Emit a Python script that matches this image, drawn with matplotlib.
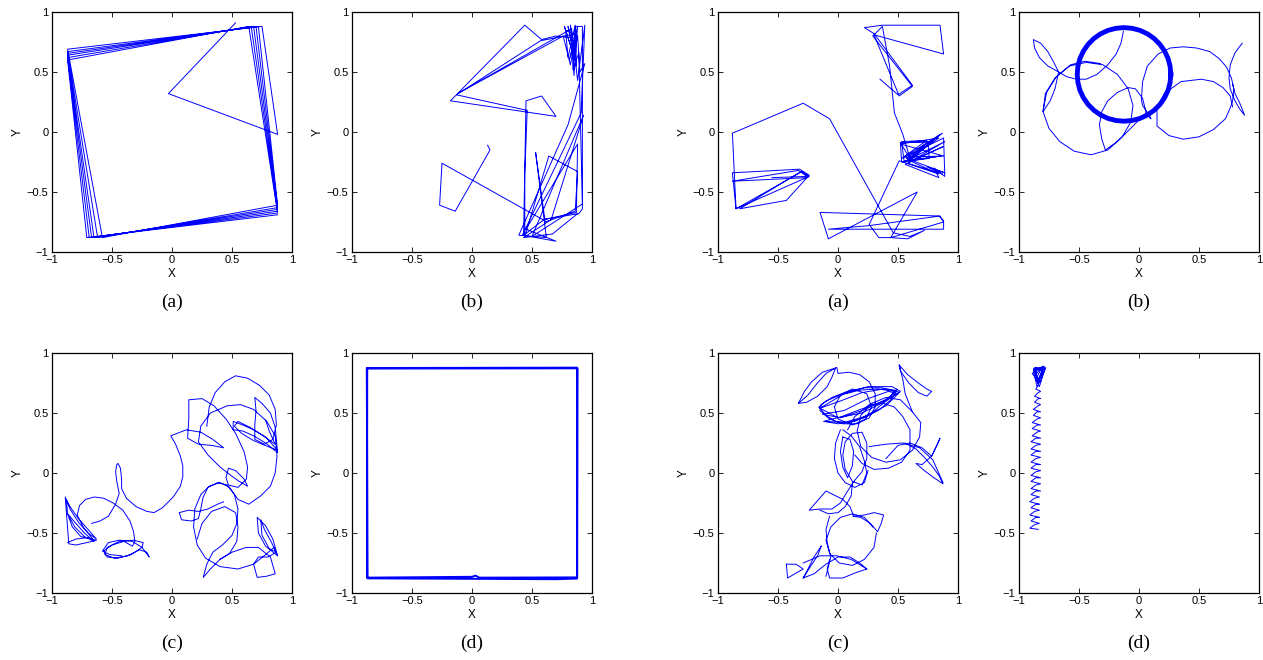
import numpy as np
import matplotlib
matplotlib.use("Agg")
import matplotlib.pyplot as plt

nan = np.nan

# ---- trajectories (x, y in [-1, 1]) ----
# left figure (a): rotating square
p1 = [(0.53, 0.91), (-0.03, 0.32), (0.88, -0.02), (0.75, 0.88),
      (-0.87, 0.69), (-0.58, -0.88), (0.88, -0.61), (0.72, 0.88),
      (-0.87, 0.67), (-0.62, -0.88), (0.88, -0.63), (0.70, 0.88),
      (-0.87, 0.655), (-0.65, -0.88), (0.88, -0.645), (0.68, 0.88),
      (-0.87, 0.64), (-0.67, -0.88), (0.88, -0.66), (0.66, 0.88),
      (-0.87, 0.62), (-0.69, -0.88), (0.88, -0.675), (0.64, 0.88),
      (-0.87, 0.60), (-0.71, -0.88), (0.88, -0.69)]

# left figure (b)
p2 = [(0.13, -0.11), (0.15, -0.15), (-0.14, -0.66), (-0.27, -0.61), (-0.25, -0.26), (0.59, -0.73),
      (0.89, -0.68), (0.92, -0.64), (0.92, 0.88), (0.86, 0.88), (0.87, 0.55), (0.80, 0.88),
      (0.86, 0.60), (0.77, 0.88), (0.87, 0.57), (0.82, 0.89), (0.85, 0.47), (0.88, 0.88),
      (0.81, 0.60), (0.88, 0.78), (0.70, 0.80), (0.58, 0.77), (0.44, 0.89), (-0.13, 0.31),
      (0.57, 0.76), (0.87, 0.82), (0.82, 0.56), (0.76, 0.80), (-0.12, 0.32), (0.83, 0.86),
      (0.88, 0.43), (0.94, 0.89), (0.91, 0.16), (0.42, -0.86), (0.70, -0.91), (0.45, -0.81),
      (0.88, -0.10), (0.87, -0.67), (0.60, -0.73), (0.43, -0.86), (0.45, 0.26), (0.58, 0.30),
      (0.70, 0.13), (-0.18, 0.26), (-0.13, 0.31), (0.46, 0.18), (0.44, -0.35), (0.44, -0.87),
      (0.64, -0.20), (0.88, -0.33), (0.86, -0.66), (0.61, -0.75), (0.53, -0.17), (0.62, -0.88),
      (0.39, -0.86), (0.80, 0.06), (0.94, 0.57), (0.90, 0.50), (0.88, 0.80), (0.78, 0.85),
      (0.80, 0.62), (0.86, 0.89), (0.84, 0.52), (0.89, 0.66), (0.92, -0.60), (0.50, -0.87),
      (0.93, 0.14), (0.66, -0.73), (0.43, -0.88), (0.67, -0.85), (0.88, -0.68)]

# right figure (a)
p3 = [(0.35, 0.44), (0.50, 0.31), (0.62, 0.39), (0.30, 0.82), (0.22, 0.87), (0.37, 0.89),
      (0.85, 0.89), (0.88, 0.65), (0.30, 0.81), (0.51, 0.30), (0.62, 0.38), (0.29, 0.80),
      (0.37, 0.88), (0.43, 0.55), (0.47, 0.16), (0.54, -0.02), (0.60, -0.22),
      (0.52, -0.09), (0.75, -0.08), (0.76, -0.22), (0.53, -0.25), (0.52, -0.09),
      (0.75, -0.08), (0.56, -0.25), (0.87, -0.01), (0.55, -0.21), (0.88, -0.20), (0.52, -0.10),
      (0.84, -0.05), (0.57, -0.24), (0.89, -0.08), (0.58, -0.26), (0.87, -0.35), (0.74, -0.29),
      (0.89, -0.34), (0.57, -0.22), (0.85, -0.02), (0.59, -0.25), (0.88, -0.12), (0.56, -0.27),
      (0.84, -0.38), (0.80, -0.30), (0.89, -0.37), (0.88, -0.05), (0.53, -0.22), (0.74, -0.07),
      (0.53, -0.08), (0.55, -0.24), (0.86, -0.20), (0.60, -0.24), (0.84, -0.35), (0.51, -0.24),
      (0.26, -0.77), (0.34, -0.88), (0.44, -0.88), (0.66, -0.50), (-0.08, -0.89), (-0.15, -0.67),
      (0.84, -0.70), (0.88, -0.74), (0.88, -0.81), (-0.08, -0.81), (0.26, -0.78), (0.85, -0.70),
      (0.88, -0.75), (0.44, -0.88), (0.58, -0.89), (0.72, -0.82), (0.60, -0.87), (0.46, -0.84),
      (-0.07, 0.11), (-0.29, 0.24), (-0.88, -0.01), (-0.85, -0.64),
      (-0.30, -0.33), (-0.24, -0.37), (-0.85, -0.64), (-0.88, -0.34), (-0.32, -0.31),
      (-0.24, -0.36), (-0.43, -0.57), (-0.82, -0.64), (-0.31, -0.33), (-0.25, -0.38),
      (-0.88, -0.41), (-0.33, -0.32), (-0.25, -0.37), (-0.55, -0.38)]

# right figure (b): ring that is circled many times, plus thin arcs
p4_ring = [(0.265, 0.48), (0.259, 0.548), (0.242, 0.613), (0.213, 0.675), (0.174, 0.731),
           (0.126, 0.779), (0.070, 0.818), (0.008, 0.847), (-0.057, 0.864), (-0.125, 0.87),
           (-0.193, 0.864), (-0.258, 0.847), (-0.320, 0.818), (-0.376, 0.779), (-0.424, 0.731),
           (-0.463, 0.675), (-0.492, 0.613), (-0.509, 0.548), (-0.515, 0.48), (-0.509, 0.412),
           (-0.492, 0.347), (-0.463, 0.285), (-0.424, 0.229), (-0.376, 0.181), (-0.320, 0.142),
           (-0.258, 0.113), (-0.193, 0.096), (-0.125, 0.09), (-0.057, 0.096), (0.008, 0.113),
           (0.070, 0.142), (0.126, 0.181), (0.174, 0.229), (0.213, 0.285), (0.242, 0.347),
           (0.259, 0.412), (0.265, 0.48)]
p4_arcs = [(-0.67, 0.50), (-0.71, 0.58), (-0.76, 0.67), (-0.82, 0.74), (-0.88, 0.77), (-0.87, 0.70),
           (-0.83, 0.62), (-0.76, 0.55), (-0.67, 0.50), (-0.60, 0.46), (-0.52, 0.44), (-0.44, 0.44),
           (-0.35, 0.48), (-0.26, 0.56), (-0.19, 0.65), (-0.15, 0.74), (-0.13, 0.84), (nan, nan),
           (-0.67, 0.50), (-0.70, 0.36), (-0.74, 0.26), (-0.80, 0.17), (-0.78, 0.32), (-0.70, 0.45),
           (-0.58, 0.55), (-0.44, 0.58), (-0.30, 0.56), (-0.18, 0.48), (-0.09, 0.36), (-0.05, 0.22),
           (-0.07, 0.08), (-0.14, -0.04), (-0.26, -0.15), (-0.40, -0.19), (-0.54, -0.16),
           (-0.66, -0.08), (-0.75, 0.03), (-0.80, 0.17), (-0.77, 0.33), (-0.69, 0.46), (-0.57, 0.56),
           (-0.45, 0.59), (-0.32, 0.57), (nan, nan),
           (-0.28, -0.15), (-0.31, -0.06), (-0.33, 0.06), (-0.31, 0.17), (-0.26, 0.26), (-0.18, 0.33),
           (-0.09, 0.37), (-0.03, 0.36), (0.03, 0.28), (0.06, 0.16), (0.0, 0.10), (-0.08, 0.02),
           (-0.18, -0.08), (-0.28, -0.15), (nan, nan),
           (0.06, 0.16), (0.09, 0.12), (0.10, 0.11), (0.08, 0.15), (0.03, 0.22), (0.02, 0.27),
           (0.03, 0.42), (0.07, 0.55), (0.16, 0.65), (0.26, 0.70), (0.37, 0.71), (0.48, 0.70),
           (0.59, 0.67), (0.67, 0.61), (0.73, 0.54), (0.77, 0.45), (0.79, 0.36), (0.78, 0.26),
           (0.76, 0.20), (0.72, 0.11), (0.62, 0.02), (0.50, -0.04), (0.37, -0.06), (0.25, -0.03),
           (0.15, 0.05), (0.15, 0.20), (0.21, 0.32), (0.35, 0.42), (0.52, 0.44), (0.62, 0.42),
           (0.70, 0.37), (0.76, 0.30), (0.78, 0.21), (nan, nan),
           (0.86, 0.74), (0.80, 0.66), (0.76, 0.56), (0.75, 0.45), (0.76, 0.36), (0.80, 0.26),
           (0.84, 0.19), (0.88, 0.14), (0.84, 0.24), (0.80, 0.32), (0.78, 0.40)]

# left figure (c)
p5 = [(-0.87, -0.58), (-0.80, -0.55), (-0.71, -0.54), (-0.63, -0.56), (-0.71, -0.58), (-0.80, -0.60),
      (-0.86, -0.59), (-0.89, -0.20), (-0.85, -0.30), (-0.78, -0.41), (-0.70, -0.50), (-0.63, -0.55),
      (-0.70, -0.47), (-0.78, -0.38), (-0.85, -0.28), (-0.88, -0.22), (-0.87, -0.34), (-0.81, -0.45),
      (-0.73, -0.53), (-0.65, -0.57), (-0.73, -0.50), (-0.81, -0.41), (-0.87, -0.34), (-0.83, -0.45),
      (-0.76, -0.53), (-0.66, -0.55), (-0.74, -0.45), (-0.79, -0.35), (-0.77, -0.27), (-0.72, -0.22),
      (-0.65, -0.20), (-0.57, -0.21), (-0.49, -0.25), (-0.41, -0.31), (-0.35, -0.40), (-0.32, -0.49),
      (-0.31, -0.57), (-0.33, -0.61), (-0.40, -0.57), (-0.50, -0.60), (-0.57, -0.65), (-0.54, -0.70),
      (-0.45, -0.71), (-0.34, -0.68), (-0.25, -0.62), (-0.24, -0.58), (-0.32, -0.56), (-0.44, -0.57),
      (-0.54, -0.62), (-0.56, -0.68), (-0.48, -0.71), (-0.37, -0.69), (-0.27, -0.64), (-0.21, -0.66),
      (-0.19, -0.70), (-0.25, -0.62), (-0.33, -0.57), (-0.44, -0.56), (-0.53, -0.58), (-0.58, -0.65),
      (-0.52, -0.68), (-0.42, -0.69), (nan, nan),
      (-0.67, -0.42), (-0.60, -0.40), (-0.53, -0.36), (-0.47, -0.26), (-0.44, -0.17), (-0.46, -0.07),
      (-0.47, 0.01), (-0.46, 0.07), (-0.45, 0.08), (-0.43, 0.04), (-0.42, -0.05), (-0.42, -0.13),
      (-0.38, -0.21), (-0.30, -0.28), (-0.21, -0.32), (-0.15, -0.33), (-0.08, -0.29), (0.01, -0.20),
      (0.07, -0.11), (0.09, -0.03), (0.09, 0.06), (0.07, 0.14), (0.03, 0.24), (-0.01, 0.31),
      (0.12, 0.36), (0.24, 0.34), (0.34, 0.28), (0.43, 0.21), (0.33, 0.23), (0.22, 0.24), (0.13, 0.29),
      (0.14, 0.45), (0.14, 0.61), (0.25, 0.62), (0.35, 0.56), (0.45, 0.45), (0.53, 0.33), (0.60, 0.18),
      (0.63, 0.05), (0.62, -0.05), (0.55, -0.12), (0.47, -0.10), (0.45, -0.04), (0.47, 0.04),
      (0.53, 0.02), (0.60, -0.05), (0.63, -0.11), (0.56, -0.07), (0.49, -0.02), (0.40, 0.05),
      (0.30, 0.15), (0.22, 0.26), (0.24, 0.39), (0.32, 0.50), (0.46, 0.56), (0.57, 0.57), (0.68, 0.53),
      (0.79, 0.43), (0.86, 0.31), (0.875, 0.14), (0.86, 0.0), (0.82, -0.11), (0.74, -0.19),
      (0.64, -0.26), (0.55, -0.22), (0.48, -0.12), (0.40, -0.08), (0.31, -0.11), (0.24, -0.18),
      (0.19, -0.30), (0.18, -0.45), (0.21, -0.60), (0.28, -0.71), (0.40, -0.78), (0.55, -0.80),
      (0.68, -0.76), (0.78, -0.68), (0.85, -0.62), (0.88, -0.69), (0.84, -0.55), (0.78, -0.44),
      (0.71, -0.37), (0.72, -0.50), (0.78, -0.61), (0.88, -0.69), (0.83, -0.58), (0.77, -0.47),
      (0.74, -0.39), (0.75, -0.52), (0.81, -0.63), (0.87, -0.66), (0.80, -0.70), (0.72, -0.70),
      (0.68, -0.76), (0.71, -0.87), (0.79, -0.86), (0.86, -0.84), (0.82, -0.70), (0.72, -0.62),
      (0.62, -0.62), (0.50, -0.66), (0.40, -0.72), (0.32, -0.80), (0.26, -0.87), (0.29, -0.76),
      (0.34, -0.66), (0.42, -0.60), (0.50, -0.52), (0.54, -0.42), (0.55, -0.30), (0.52, -0.18),
      (0.46, -0.10), (0.38, -0.08), (0.30, -0.12), (0.26, -0.20), (0.24, -0.30), (0.22, -0.38),
      (0.16, -0.40), (0.08, -0.39), (0.06, -0.33), (0.14, -0.31), (0.22, -0.32), (0.30, -0.30),
      (0.38, -0.26), (0.43, -0.24), (nan, nan),
      (0.21, -0.55), (0.25, -0.42), (0.33, -0.32), (0.44, -0.28), (0.53, -0.33), (0.55, -0.45),
      (0.54, -0.57), (0.48, -0.67), (0.40, -0.72), (nan, nan),
      (0.29, 0.39), (0.31, 0.55), (0.36, 0.67), (0.44, 0.76), (0.53, 0.81), (0.63, 0.79), (0.73, 0.73),
      (0.81, 0.65), (0.86, 0.53), (0.87, 0.40), (0.84, 0.28), (0.77, 0.24), (0.69, 0.28), (0.69, 0.40),
      (0.70, 0.52), (0.69, 0.63), (0.75, 0.58), (0.82, 0.50), (0.86, 0.38), (0.88, 0.17), (0.78, 0.25),
      (0.68, 0.31), (0.59, 0.35), (0.51, 0.36), (0.51, 0.43), (0.59, 0.40), (0.68, 0.36), (0.78, 0.30),
      (0.88, 0.19), (0.80, 0.22), (0.68, 0.27), (0.58, 0.33), (0.52, 0.39), (0.55, 0.43), (0.65, 0.38),
      (0.76, 0.31), (0.86, 0.24), (0.81, 0.35), (0.78, 0.44)]

# left figure (d): square, traced twice
p6 = [(-0.87, 0.875), (0.875, 0.878), (0.877, -0.87), (0.06, -0.872), (0.03, -0.855), (0.0, -0.865),
      (-0.875, -0.872), (-0.873, 0.875), (0.88, 0.872), (0.875, -0.88), (0.70, -0.885),
      (-0.87, -0.878), (-0.877, 0.87), (0.87, 0.875)]

# right figure (c)
p7 = [(-0.33, 0.58), (-0.28, 0.68), (-0.22, 0.76), (-0.13, 0.84), (-0.02, 0.875), (-0.05, 0.80),
      (-0.09, 0.72), (-0.17, 0.64), (-0.26, 0.59), (-0.33, 0.58), (-0.25, 0.65), (-0.18, 0.74),
      (-0.10, 0.83), (-0.01, 0.88), (0.0, 0.83), (0.09, 0.84), (0.18, 0.82), (0.26, 0.76), (0.31, 0.66),
      (0.31, 0.55), (0.26, 0.46), (0.16, 0.41), (0.04, 0.41), (-0.07, 0.45), (-0.15, 0.52),
      (-0.14, 0.57), (-0.05, 0.63), (0.08, 0.68), (0.22, 0.71), (0.36, 0.71), (0.47, 0.69), (0.51, 0.67),
      (0.42, 0.62), (0.30, 0.57), (0.16, 0.52), (0.03, 0.47), (-0.08, 0.44), (-0.12, 0.43), (0.0, 0.41),
      (0.14, 0.43), (0.28, 0.50), (0.40, 0.60), (0.49, 0.70), (0.45, 0.62), (0.35, 0.53), (0.22, 0.46),
      (0.08, 0.42), (-0.02, 0.43), (-0.10, 0.48), (-0.16, 0.55), (-0.10, 0.60), (0.02, 0.65),
      (0.18, 0.69), (0.33, 0.70), (0.48, 0.68), (nan, nan),
      (-0.15, 0.54), (0.05, 0.66), (0.25, 0.72), (0.45, 0.72), (0.52, 0.68), (0.40, 0.60), (0.20, 0.50),
      (0.0, 0.46), (-0.15, 0.54), (0.02, 0.60), (0.20, 0.67), (0.38, 0.70), (0.49, 0.68), (0.38, 0.60),
      (0.20, 0.52), (0.02, 0.46), (-0.13, 0.49), (0.05, 0.52), (0.25, 0.62), (0.42, 0.68), (0.50, 0.66),
      (0.40, 0.56), (0.22, 0.47), (0.05, 0.42), (-0.10, 0.43), (nan, nan),
      (-0.03, 0.55), (0.02, 0.65), (0.12, 0.70), (0.24, 0.66), (0.28, 0.55), (0.23, 0.45), (0.12, 0.40),
      (0.0, 0.45), (-0.03, 0.55), (nan, nan),
      (0.51, 0.90), (0.58, 0.82), (0.67, 0.75), (0.74, 0.70), (0.78, 0.68), (0.74, 0.64), (0.67, 0.67),
      (0.59, 0.75), (0.52, 0.85), (0.51, 0.90), (0.54, 0.78), (0.56, 0.66), (0.60, 0.56), (0.62, 0.51),
      (0.69, 0.42), (0.68, 0.30), (0.62, 0.19), (0.52, 0.11), (0.40, 0.09), (0.28, 0.13), (0.19, 0.22),
      (0.16, 0.35), (0.19, 0.48), (0.28, 0.58), (0.40, 0.63), (0.52, 0.61), (0.62, 0.51), (nan, nan),
      (0.08, 0.36), (0.14, 0.47), (0.26, 0.57), (0.375, 0.58), (0.47, 0.55), (0.54, 0.47), (0.60, 0.36),
      (0.60, 0.19), (0.53, 0.09), (0.42, 0.04), (0.30, 0.03), (0.20, 0.08), (0.14, 0.15), (nan, nan),
      (0.26, 0.22), (0.40, 0.24), (0.54, 0.25), (0.68, 0.21), (0.79, 0.11), (0.875, -0.08), (nan, nan),
      (0.40, 0.12), (0.50, 0.23), (0.60, 0.25), (0.70, 0.21), (0.78, 0.14), (0.85, 0.29), (0.83, 0.24),
      (0.78, 0.14), (0.70, 0.07), (0.65, 0.08), (0.72, 0.02), (0.80, -0.04), (0.875, -0.09),
      (0.84, -0.02), (0.79, 0.05), (0.72, 0.13), (0.65, 0.20), (0.56, 0.25), (nan, nan),
      (0.04, 0.36), (0.11, 0.31), (0.18, 0.22), (0.22, 0.10), (0.24, 0.0), (0.20, -0.10), (0.12, -0.07),
      (0.06, 0.03), (0.04, 0.15), (0.06, 0.26), (0.12, 0.33), (0.20, 0.34), (0.24, 0.25), (0.24, 0.12),
      (0.20, 0.01), (0.14, -0.06), (0.08, -0.15), (0.02, -0.25), (-0.05, -0.30), (-0.15, -0.30),
      (-0.24, -0.31), (-0.17, -0.23), (-0.10, -0.15), (-0.04, -0.18), (0.04, -0.22), (0.10, -0.28),
      (0.13, -0.36), (0.22, -0.35), (0.30, -0.33), (0.38, -0.35), (0.36, -0.42), (0.33, -0.49),
      (0.27, -0.42), (0.19, -0.37), (0.125, -0.36), (nan, nan),
      (0.04, 0.30), (0.02, 0.18), (0.04, 0.05), (0.08, -0.04), (0.12, 0.06), (0.13, 0.18), (0.10, 0.28),
      (0.04, 0.30), (nan, nan),
      (0.12, -0.08), (0.11, -0.19), (0.06, -0.28), (0.0, -0.33), (-0.08, -0.34), (-0.15, -0.31),
      (nan, nan),
      (-0.07, -0.36), (-0.10, -0.47), (-0.09, -0.58), (-0.06, -0.70), (-0.10, -0.86), (nan, nan),
      (0.32, -0.50), (0.30, -0.62), (0.22, -0.72), (0.12, -0.77), (0.01, -0.75), (-0.07, -0.67),
      (-0.10, -0.56), (-0.06, -0.45), (0.02, -0.37), (0.12, -0.34), (0.22, -0.37), (0.29, -0.45),
      (nan, nan),
      (-0.14, -0.61), (-0.20, -0.70), (-0.25, -0.80), (-0.29, -0.875), (-0.23, -0.78), (-0.17, -0.69),
      (-0.14, -0.61), (nan, nan),
      (-0.43, -0.76), (-0.35, -0.76), (-0.29, -0.80), (-0.36, -0.84), (-0.42, -0.875), (-0.43, -0.76),
      (nan, nan),
      (-0.29, -0.75), (-0.15, -0.69), (-0.01, -0.69), (0.11, -0.72), (0.24, -0.80), (nan, nan),
      (-0.29, -0.875), (-0.20, -0.84), (-0.10, -0.76), (0.0, -0.70), (0.10, -0.70), (0.18, -0.75),
      (0.24, -0.80), (0.15, -0.83), (0.04, -0.875), (-0.07, -0.875), (-0.09, -0.80), (-0.07, -0.72),
      (nan, nan),
      (0.02, 0.36), (-0.02, 0.25), (-0.03, 0.12), (0.0, 0.0), (0.06, -0.08), (0.14, -0.12),
      (0.22, -0.08), (0.25, 0.02)]

# right figure (d): zigzag climbing the left wall
p8 = [(-0.84, -0.47), (-0.91, -0.46), (-0.87, -0.43), (-0.83, -0.42), (-0.90, -0.40), (-0.86, -0.37),
      (-0.83, -0.37), (-0.91, -0.35), (-0.87, -0.32), (-0.83, -0.31), (-0.90, -0.29), (-0.86, -0.26),
      (-0.83, -0.26), (-0.91, -0.24), (-0.87, -0.21), (-0.83, -0.20), (-0.90, -0.18), (-0.86, -0.15),
      (-0.82, -0.15), (-0.90, -0.13), (-0.86, -0.10), (-0.82, -0.09), (-0.90, -0.07), (-0.86, -0.04),
      (-0.82, -0.04), (-0.90, -0.02), (-0.86, 0.01), (-0.82, 0.02), (-0.90, 0.04), (-0.86, 0.07),
      (-0.82, 0.07), (-0.90, 0.09), (-0.86, 0.12), (-0.82, 0.13), (-0.90, 0.15), (-0.86, 0.18),
      (-0.82, 0.18), (-0.90, 0.20), (-0.86, 0.23), (-0.82, 0.24), (-0.90, 0.26), (-0.86, 0.29),
      (-0.82, 0.29), (-0.89, 0.31), (-0.85, 0.34), (-0.82, 0.35), (-0.89, 0.37), (-0.85, 0.40),
      (-0.82, 0.40), (-0.89, 0.42), (-0.85, 0.45), (-0.82, 0.46), (-0.88, 0.48), (-0.85, 0.51),
      (-0.82, 0.51), (-0.88, 0.53), (-0.84, 0.56), (-0.82, 0.57), (-0.87, 0.59), (-0.84, 0.62),
      (-0.82, 0.62), (-0.87, 0.64), (-0.84, 0.67), (-0.82, 0.68), (-0.86, 0.70), (-0.84, 0.73),
      (-0.85, 0.72), (-0.88, 0.85), (-0.80, 0.89), (-0.84, 0.74), (-0.87, 0.88), (-0.78, 0.87),
      (-0.83, 0.75), (-0.89, 0.83), (-0.79, 0.89), (-0.85, 0.76), (-0.86, 0.88), (-0.80, 0.84),
      (-0.84, 0.78), (-0.88, 0.86), (-0.78, 0.88), (-0.83, 0.72), (-0.87, 0.81), (-0.81, 0.88),
      (-0.85, 0.80), (-0.88, 0.87), (-0.79, 0.86), (-0.84, 0.76)]

ticks = [-1, -0.5, 0, 0.5, 1]
tick_labels = ["\u22121", "\u22120.5", "0", "0.5", "1"]
captions = ["(a)", "(b)", "(a)", "(b)", "(c)", "(d)", "(c)", "(d)"]

W, H = 1263.0, 660.0
# left/top pixel of each 240x240 axes box
boxes = [(52, 12), (352, 12), (718, 12), (1019, 12),
         (52, 353), (352, 353), (718, 353), (1019, 353)]

BLUE = "#0000ff"

fig = plt.figure(figsize=(12.63, 6.6), dpi=100)


def make_axes(px, py, caption):
    ax = fig.add_axes([px / W, 1 - (py + 240) / H, 240 / W, 240 / H])
    ax.set_xlim(-1, 1)
    ax.set_ylim(-1, 1)
    ax.set_xticks(ticks)
    ax.set_yticks(ticks)
    ax.set_xticklabels(tick_labels, family="Liberation Sans")
    ax.set_yticklabels(tick_labels, family="Liberation Sans")
    ax.tick_params(direction="in", top=True, right=True, length=3.5, width=0.6,
                   labelsize=8, pad=2.5)
    ax.set_xlabel("X", family="Liberation Sans", fontsize=8.5, labelpad=1.5)
    ax.set_ylabel("Y", family="Liberation Sans", fontsize=8.5, labelpad=2)
    for s in ax.spines.values():
        s.set_linewidth(0.9)
    fig.text((px + 120) / W, 1 - (py + 290) / H, caption, family="Liberation Serif",
             fontsize=14, ha="center", va="center")
    return ax


def draw(ax, pts, lw=0.7):
    xs = [p[0] for p in pts]
    ys = [p[1] for p in pts]
    ax.plot(xs, ys, color=BLUE, lw=lw, solid_joinstyle="round")


axes = [make_axes(px, py, c) for (px, py), c in zip(boxes, captions)]

draw(axes[0], p1)
draw(axes[1], p2)
draw(axes[2], p3)
draw(axes[3], p4_ring, lw=3.5)
draw(axes[3], p4_arcs)
draw(axes[4], p5)
draw(axes[5], p6, lw=1.4)
draw(axes[6], p7)
draw(axes[7], p8)

fig.savefig("out.png", dpi=100)
